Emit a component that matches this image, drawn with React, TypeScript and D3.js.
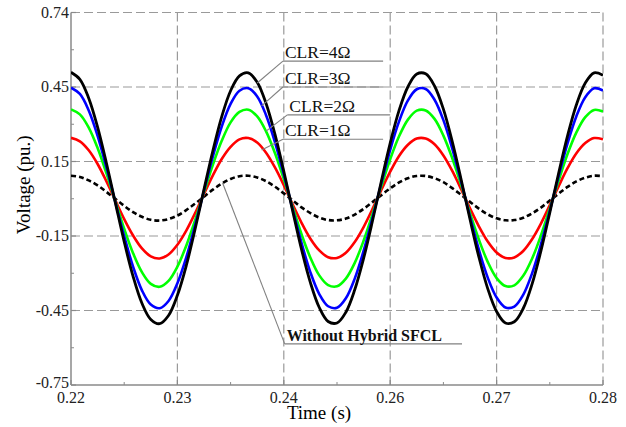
import React from "react";
import * as d3 from "d3";

// Sampling grid (s)
const tStart = 0.22;
const tStep = 0.001;

// Series values (pu.), one sample per 1 ms from 0.220 s to 0.280 s
const clr4 = [0.505, 0.477, 0.401, 0.285, 0.140, -0.018, -0.175, -0.314, -0.422, -0.487, -0.504, -0.471, -0.390, -0.271, -0.124, 0.035, 0.190, 0.327, 0.431, 0.491, 0.503, 0.465, 0.380, 0.257, 0.108, -0.051, -0.206, -0.339, -0.439, -0.495, -0.501, -0.458, -0.368, -0.242, -0.092, 0.068, 0.221, 0.352, 0.447, 0.498, 0.499, 0.450, 0.357, 0.227, 0.075, -0.085, -0.236, -0.363, -0.455, -0.501, -0.496, -0.443, -0.345, -0.212, -0.058, 0.101, 0.250, 0.375, 0.462, 0.503, 0.493];
const clr3 = [0.443, 0.418, 0.352, 0.250, 0.123, -0.016, -0.153, -0.275, -0.370, -0.427, -0.442, -0.413, -0.342, -0.238, -0.109, 0.030, 0.167, 0.287, 0.378, 0.431, 0.441, 0.408, 0.333, 0.225, 0.095, -0.045, -0.180, -0.298, -0.385, -0.434, -0.440, -0.402, -0.323, -0.212, -0.080, 0.060, 0.194, 0.308, 0.392, 0.437, 0.438, 0.395, 0.313, 0.199, 0.066, -0.074, -0.207, -0.319, -0.399, -0.439, -0.435, -0.388, -0.302, -0.186, -0.051, 0.089, 0.220, 0.329, 0.405, 0.441, 0.432];
const clr2 = [0.356, 0.336, 0.283, 0.201, 0.099, -0.013, -0.123, -0.221, -0.297, -0.344, -0.356, -0.332, -0.275, -0.191, -0.088, 0.024, 0.134, 0.230, 0.304, 0.346, 0.355, 0.328, 0.268, 0.181, 0.076, -0.036, -0.145, -0.239, -0.310, -0.349, -0.354, -0.323, -0.260, -0.171, -0.065, 0.048, 0.156, 0.248, 0.315, 0.351, 0.352, 0.318, 0.251, 0.160, 0.053, -0.060, -0.166, -0.256, -0.321, -0.353, -0.350, -0.312, -0.243, -0.150, -0.041, 0.071, 0.177, 0.264, 0.325, 0.354, 0.348];
const clr1 = [0.242, 0.228, 0.192, 0.137, 0.067, -0.009, -0.084, -0.150, -0.202, -0.234, -0.242, -0.226, -0.187, -0.130, -0.060, 0.017, 0.091, 0.157, 0.206, 0.236, 0.241, 0.223, 0.182, 0.123, 0.052, -0.025, -0.099, -0.163, -0.210, -0.237, -0.240, -0.219, -0.176, -0.116, -0.044, 0.033, 0.106, 0.169, 0.214, 0.239, 0.239, 0.216, 0.171, 0.109, 0.036, -0.041, -0.113, -0.174, -0.218, -0.240, -0.238, -0.212, -0.165, -0.102, -0.028, 0.048, 0.120, 0.180, 0.221, 0.241, 0.236];
const noSfcl = [0.090, 0.085, 0.071, 0.051, 0.025, -0.003, -0.031, -0.056, -0.075, -0.087, -0.090, -0.084, -0.070, -0.048, -0.022, 0.006, 0.034, 0.058, 0.077, 0.088, 0.090, 0.083, 0.068, 0.046, 0.019, -0.009, -0.037, -0.060, -0.078, -0.088, -0.089, -0.082, -0.066, -0.043, -0.016, 0.012, 0.039, 0.063, 0.080, 0.089, 0.089, 0.080, 0.064, 0.040, 0.013, -0.015, -0.042, -0.065, -0.081, -0.089, -0.088, -0.079, -0.061, -0.038, -0.010, 0.018, 0.045, 0.067, 0.082, 0.090, 0.088];

// Axis ticks
const xDomain = [0.22, 0.28];
const yDomain = [-0.75, 0.745];
const xTickLabels = ["0.22", "0.23", "0.24", "0.26", "0.27", "0.28"];
const yTickLabels = ["-0.75", "-0.45", "-0.15", "0.15", "0.45", "0.74"];

// Annotations (data coordinates)
const annotations = [
  { label: "CLR=4\u03A9", t0: 0.2439, t1: 0.2552, v: 0.55, pt: 0.241, pv: 0.462, bold: false },
  { label: "CLR=3\u03A9", t0: 0.2439, t1: 0.2552, v: 0.446, pt: 0.2415, pv: 0.37, bold: false },
  { label: "CLR=2\u03A9", t0: 0.2444, t1: 0.256, v: 0.334, pt: 0.242, pv: 0.269, bold: false },
  { label: "CLR=1\u03A9", t0: 0.2439, t1: 0.2552, v: 0.236, pt: 0.2415, pv: 0.193, bold: false },
  { label: "Without Hybrid SFCL", t0: 0.2441, t1: 0.2641, v: -0.585, pt: 0.2371, pv: 0.061, bold: true },
];

const W = 626;
const H = 427;
const M = { left: 71, right: 603, top: 12.5, bottom: 385 };
const FONT = "'Liberation Serif', 'Times New Roman', serif";

export default function App() {
  const x = d3.scaleLinear().domain(xDomain).range([M.left, M.right]);
  const y = d3.scaleLinear().domain(yDomain).range([M.bottom, M.top]);
  const xTicks = xTickLabels.map((_, i) => xDomain[0] + (i * (xDomain[1] - xDomain[0])) / 5);
  const yTicks = yTickLabels.map((_, i) => yDomain[0] + (i * (yDomain[1] - yDomain[0])) / 5);
  const xMinor = xTicks.slice(0, -1).map((t, i) => (t + xTicks[i + 1]) / 2);
  const yMinor = yTicks.slice(0, -1).map((v, i) => (v + yTicks[i + 1]) / 2);

  const line = d3
    .line<number>()
    .x((_, i) => x(tStart + i * tStep))
    .y((d) => y(d))
    .curve(d3.curveCatmullRom.alpha(0.5));

  const series = [
    { values: noSfcl, color: "#000000", width: 2.6, dash: "5,3" },
    { values: clr1, color: "#ff0000", width: 2.6, dash: null },
    { values: clr2, color: "#00ff00", width: 2.6, dash: null },
    { values: clr3, color: "#0000ff", width: 2.6, dash: null },
    { values: clr4, color: "#000000", width: 2.8, dash: null },
  ];

  const gridColor = "#9a9a9a";
  const axisColor = "#8a8a8a";
  const leaderColor = "#808080";

  return (
    <svg width={W} height={H} style={{ position: "absolute", left: 0, top: 0, background: "#fff" }}>
      <rect width={W} height={H} fill="#fff" />
      {/* grid */}
      {xTicks.slice(1).map((t, i) => (
        <line key={"gx" + i} x1={x(t)} x2={x(t)} y1={M.top} y2={M.bottom} stroke={gridColor} strokeWidth={1.2} strokeDasharray="9,4" />
      ))}
      {yTicks.slice(1).map((v, i) => (
        <line key={"gy" + i} x1={M.left} x2={M.right} y1={y(v)} y2={y(v)} stroke={gridColor} strokeWidth={1.2} strokeDasharray="9,4" />
      ))}
      {/* axes */}
      <line x1={M.left} x2={M.left} y1={M.top} y2={M.bottom} stroke={axisColor} strokeWidth={1.5} />
      <line x1={M.left} x2={M.right} y1={M.bottom} y2={M.bottom} stroke={axisColor} strokeWidth={1.5} />
      {xTicks.map((t, i) => (
        <line key={"xt" + i} x1={x(t)} x2={x(t)} y1={M.bottom} y2={M.bottom - 5} stroke={axisColor} strokeWidth={1.2} />
      ))}
      {xMinor.map((t, i) => (
        <line key={"xm" + i} x1={x(t)} x2={x(t)} y1={M.bottom} y2={M.bottom - 3} stroke={axisColor} strokeWidth={1} />
      ))}
      {yTicks.map((v, i) => (
        <line key={"yt" + i} x1={M.left} x2={M.left + 5} y1={y(v)} y2={y(v)} stroke={axisColor} strokeWidth={1.2} />
      ))}
      {yMinor.map((v, i) => (
        <line key={"ym" + i} x1={M.left} x2={M.left + 3} y1={y(v)} y2={y(v)} stroke={axisColor} strokeWidth={1} />
      ))}
      {/* tick labels */}
      {xTicks.map((t, i) => (
        <text key={"xl" + i} x={x(t)} y={M.bottom + 18} textAnchor="middle" fontFamily={FONT} fontSize={16} fill="#222">
          {xTickLabels[i]}
        </text>
      ))}
      {yTicks.map((v, i) => (
        <text key={"yl" + i} x={M.left - 2} y={y(v) + (i === 0 ? 3 : 5)} textAnchor="end" fontFamily={FONT} fontSize={16} fill="#222">
          {yTickLabels[i]}
        </text>
      ))}
      {/* axis titles */}
      <text x={(M.left + M.right) / 2 - 18} y={419} textAnchor="middle" fontFamily={FONT} fontSize={19} fill="#000">
        Time (s)
      </text>
      <text transform={`translate(30,${(M.top + M.bottom) / 2 - 14}) rotate(-90)`} textAnchor="middle" fontFamily={FONT} fontSize={19} fill="#000">
        Voltage (pu.)
      </text>
      {/* curves */}
      <defs>
        <clipPath id="plotclip">
          <rect x={M.left} y={M.top - 5} width={M.right - M.left} height={M.bottom - M.top + 5} />
        </clipPath>
      </defs>
      <g clipPath="url(#plotclip)">
        {series.map((s, i) => (
          <path key={"s" + i} d={line(s.values) || ""} fill="none" stroke={s.color} strokeWidth={s.width} strokeDasharray={s.dash || undefined} strokeLinejoin="round" />
        ))}
      </g>
      {/* annotations */}
      {annotations.map((a, i) => (
        <g key={"a" + i}>
          <line x1={x(a.t0)} x2={x(a.t1)} y1={y(a.v)} y2={y(a.v)} stroke={leaderColor} strokeWidth={1.1} />
          <line x1={x(a.t0)} x2={x(a.pt)} y1={y(a.v)} y2={y(a.pv)} stroke={leaderColor} strokeWidth={1.1} />
          <text x={x(a.t0) + 2} y={y(a.v) - 3} fontFamily={FONT} fontSize={a.bold ? 16 : 17.5} fontWeight={a.bold ? "bold" : "normal"} fill="#111">
            {a.label}
          </text>
        </g>
      ))}
    </svg>
  );
}
